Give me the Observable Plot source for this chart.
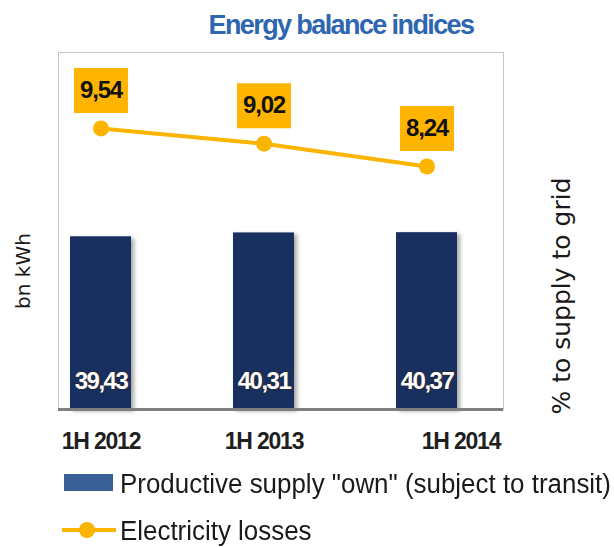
<!DOCTYPE html>
<html>
<head>
<meta charset="utf-8">
<script src="https://cdn.jsdelivr.net/npm/d3@7"></script>
<script src="https://cdn.jsdelivr.net/npm/@observablehq/plot@0.6"></script>
<style>
  body { margin: 0; background: #fff; }
  #wrap { position: relative; width: 614px; height: 547px; overflow: hidden; background: #fff; }
  #wrap svg { position: absolute; left: 0; top: 0; background: transparent; }
  #main g[aria-label="bar"] rect { filter: drop-shadow(3px 2px 2px rgba(0,0,0,0.35)); }
  #main g[aria-label="text"] text { letter-spacing: -1.5px; }
  #overlay g[aria-label="text"] text { letter-spacing: -1.2px; }
  #main g[aria-label="x-axis tick label"] text { letter-spacing: -1.2px; }
  .abs { position: absolute; white-space: nowrap; }
  #title { left: 141px; width: 400px; top: 12px; text-align: center; font-family: "Liberation Sans", Arial, sans-serif; font-size: 27px; line-height: 27px; font-weight: bold; color: #2e66b0; letter-spacing: -1.6px; }
  .vlab { font-family: "DejaVu Sans", Verdana, sans-serif; color: #1a1a1a; transform: translate(-50%, -50%) rotate(-90deg); line-height: 1; }
  .legtxt { font-family: "Liberation Sans", Arial, sans-serif; font-size: 27px; line-height: 27px; color: #1a1a1a; transform: scaleX(0.96); transform-origin: left center; }
</style>
</head>
<body>
<div id="wrap">
  <div id="title" class="abs">Energy balance indices</div>
  <div class="abs vlab" style="left:23px; top:271px; font-size:20px;">bn kWh</div>
  <div class="abs vlab" style="left:561px; top:296px; font-size:25px;">% to supply to grid</div>
  <div class="abs" style="left:64px; top:474px; width:49px; height:17px; background:#3a5f96;"></div>
  <div class="abs legtxt" style="left:120px; top:471px;">Productive supply "own" (subject to transit)</div>
  <div class="abs" style="left:62px; top:528px; width:54px; height:4px; background:#fbb400;"></div>
  <div class="abs" style="left:79px; top:522px; width:16px; height:16px; border-radius:50%; background:#fbb400;"></div>
  <div class="abs legtxt" style="left:120px; top:518px;">Electricity losses</div>
</div>
<script>
const periods = ["1H 2012", "1H 2013", "1H 2014"];
const supply = [39.43, 40.31, 40.37];
const losses = [9.54, 9.02, 8.24];

const FONT = '"Liberation Sans", Arial, sans-serif';
const fmt = v => v.toFixed(2).replace(".", ",");

const data = periods.map((p, i) => ({period: p, supply: supply[i], loss: losses[i]}));

const xScale = {
  type: "band",
  domain: periods,
  range: [17.75, 508.25],
  paddingInner: 0.627,
  paddingOuter: 0.3135,
  axis: null
};

const common = {
  width: 614,
  height: 547,
  marginLeft: 58,
  marginRight: 111,
  marginTop: 52,
  marginBottom: 138,
  style: {background: "transparent", overflow: "visible"}
};

const main = Plot.plot({
  ...common,
  x: xScale,
  y: {domain: [0, 81.5], range: [409, 52], axis: null},
  marks: [
    Plot.frame({stroke: "#c6c6c6"}),
    Plot.barY(data, {x: "period", y: "supply", fill: "#17305f"}),
    Plot.ruleY([0], {stroke: "#7f7f7f", strokeWidth: 3}),
    Plot.text(data, {
      x: "period", y: d => 0, text: d => fmt(d.supply), dy: -28,
      fill: "white", stroke: "#2a2a3a", strokeWidth: 2, lineAnchor: "middle",
      fontSize: 24, fontWeight: "bold", fontFamily: FONT
    }),
    Plot.axisX(periods.slice(0, 2), {
      tickSize: 0, tickPadding: 23, fontSize: 23, fontWeight: "bold",
      fontFamily: FONT, fill: "#1f1f1f", label: null
    }),
    Plot.axisX(periods.slice(2), {
      tickSize: 0, tickPadding: 23, fontSize: 23, fontWeight: "bold", dx: 34,
      fontFamily: FONT, fill: "#1f1f1f", label: null
    })
  ]
});
main.id = "main";

const boxSymbol = {
  draw(ctx) {
    ctx.moveTo(-27, -22.5);
    ctx.lineTo(27, -22.5);
    ctx.lineTo(27, 22.5);
    ctx.lineTo(-27, 22.5);
    ctx.closePath();
  }
};

const overlay = Plot.plot({
  ...common,
  x: xScale,
  y: {domain: [0, 12], range: [407, 56], axis: null},
  marks: [
    Plot.line(data, {x: "period", y: "loss", stroke: "#fbb400", strokeWidth: 4}),
    Plot.dot(data, {x: "period", y: "loss", r: 8, fill: "#fbb400", stroke: "none"}),
    Plot.dot(data, {x: "period", y: "loss", symbol: boxSymbol, fill: "#ffb400", stroke: "none", dy: -38}),
    Plot.text(data, {
      x: "period", y: "loss", text: d => fmt(d.loss), dy: -38, lineAnchor: "middle",
      fontSize: 24, fontWeight: "bold", fontFamily: FONT, fill: "#111"
    })
  ]
});
overlay.id = "overlay";

const wrap = document.getElementById("wrap");
wrap.insertBefore(main, wrap.firstChild);
wrap.appendChild(overlay);
</script>
</body>
</html>
